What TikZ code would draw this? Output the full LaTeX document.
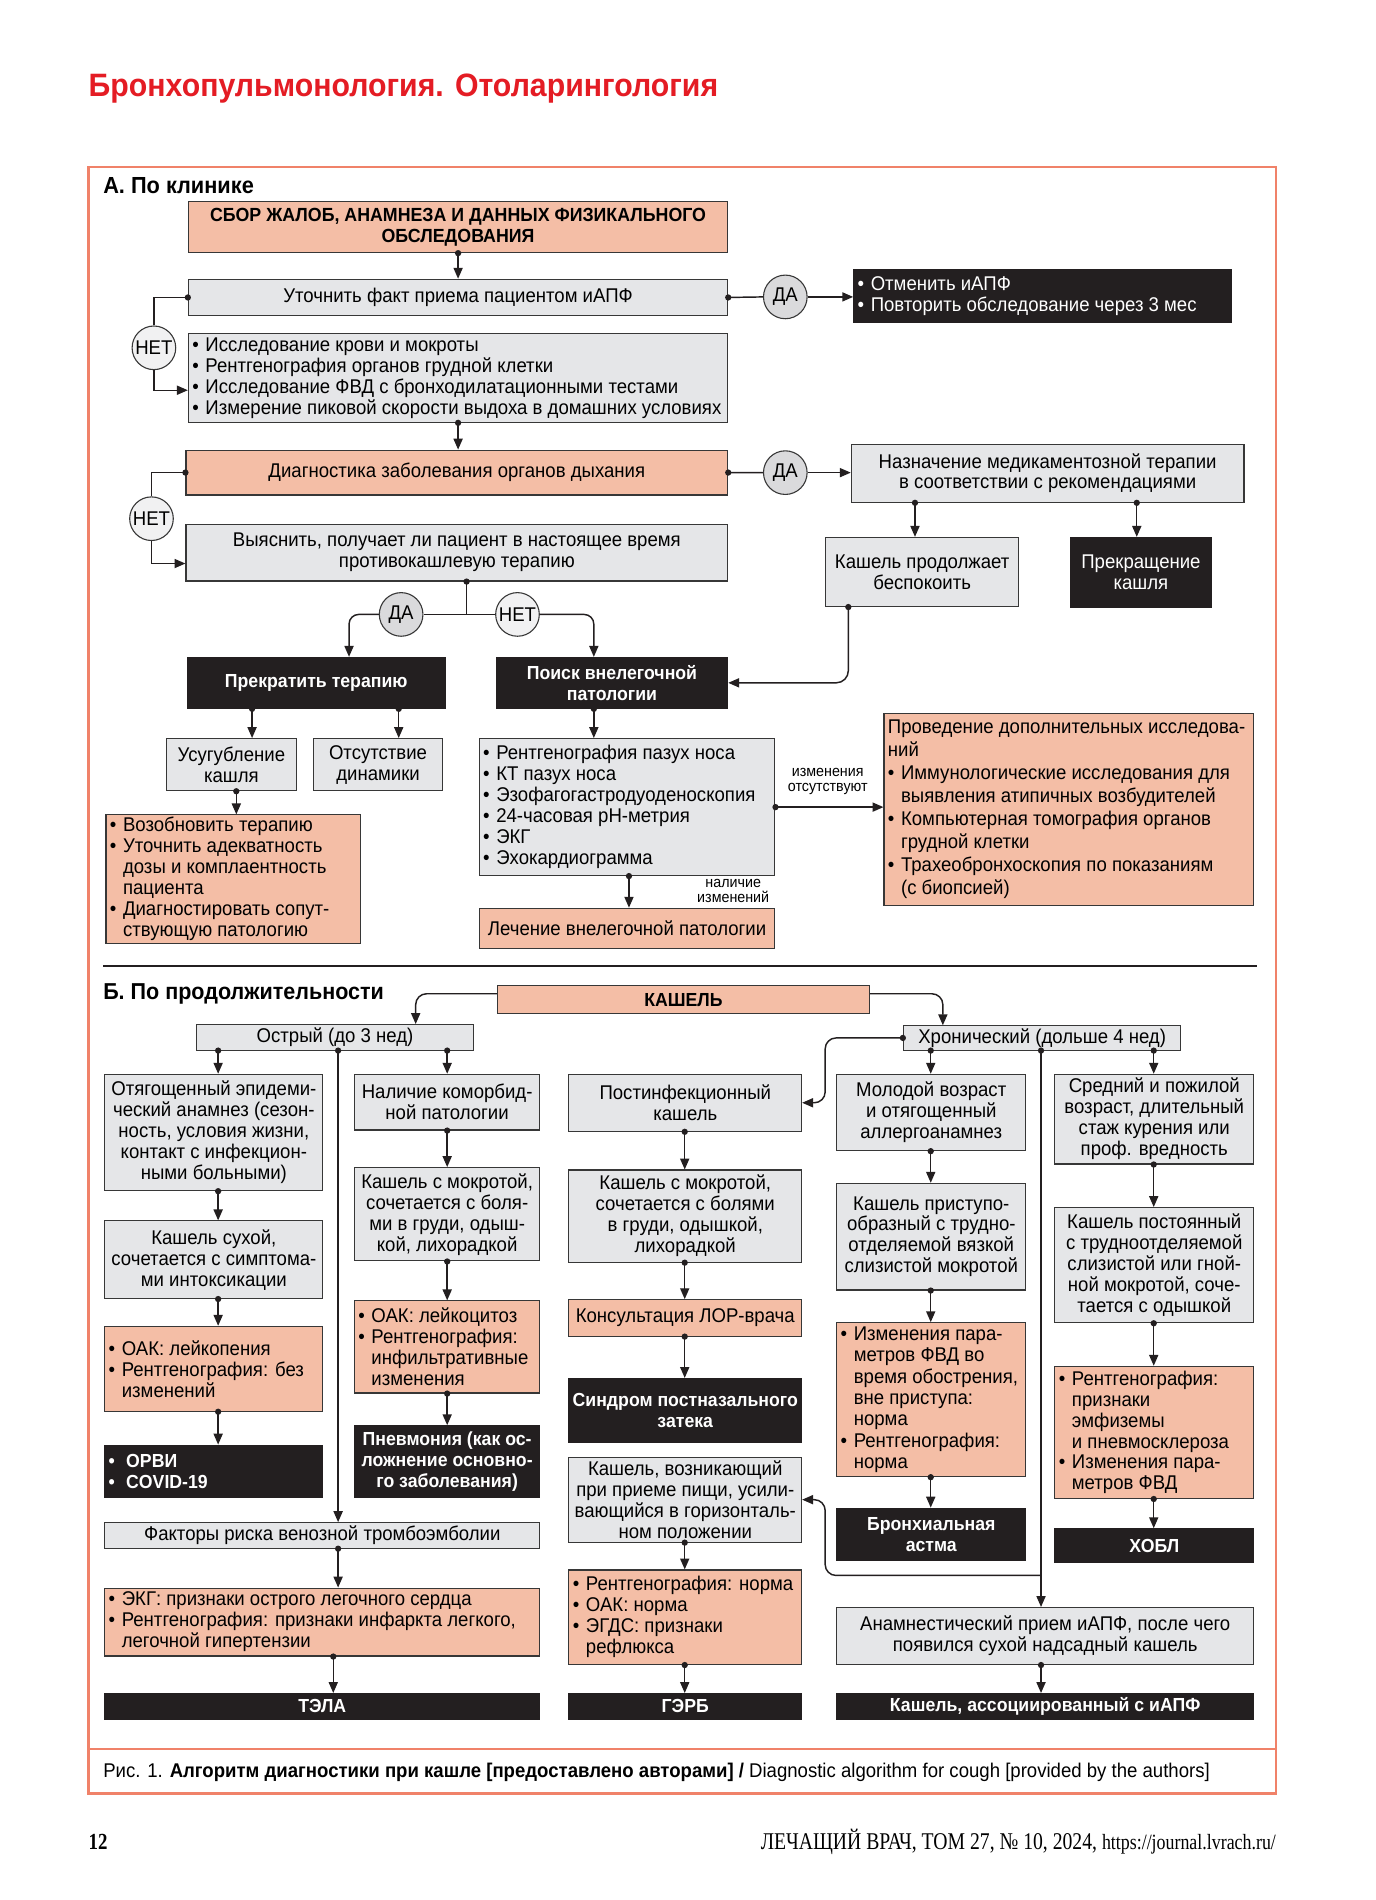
\documentclass[tikz,border=0pt]{standalone}
\usepackage{fontspec}
\setmainfont{Liberation Sans}[FakeStretch=0.935]
\newfontfamily\footserif{Liberation Serif}[FakeStretch=0.82]
\usetikzlibrary{arrows.meta}
\definecolor{salm}{RGB}{244,190,166}
\definecolor{gfill}{RGB}{229,230,232}
\definecolor{kfill}{RGB}{35,31,32}
\definecolor{bord}{RGB}{55,55,55}
\definecolor{framec}{RGB}{240,130,105}
\definecolor{tred}{RGB}{228,28,36}
\definecolor{dafill}{RGB}{218,218,220}
\definecolor{netfill}{RGB}{241,241,242}
\newcommand{\fN}{\fontsize{16.4}{17.3}\selectfont}
\newcommand{\fB}{\fontsize{15.6}{17.3}\selectfont\bfseries}
\newcommand{\bul}{\makebox[0.66em][l]{•}}
\newcommand{\ind}{\hspace*{0.66em}}
\newcommand{\cbx}[7]{%
  \pgfmathsetmacro{\myW}{#5-#3}\pgfmathsetmacro{\myH}{#6-#4}%
  \node[#1, minimum width=\myW pt, minimum height=\myH pt, anchor=north west, align=center] (#2) at (#3,#4) {#7};}
\newcommand{\lbx}[8]{%
  \pgfmathsetmacro{\myW}{#5-#3}\pgfmathsetmacro{\myH}{#6-#4}%
  \node[#1, minimum width=\myW pt, minimum height=\myH pt, anchor=north west] (#2) at (#3,#4) {};
  \node[anchor=west, align=left, inner sep=0pt, #7] (#2t) at ([xshift=3.5pt]#2.west) {#8};}
\newcommand{\conn}[3][]{\draw[arr,#1] (#2) #3; \fill[kfill] (#2) circle (2.6pt);}
\newcommand{\connl}[2]{\draw[ln] (#1) #2; \fill[kfill] (#1) circle (2.6pt);}
\begin{document}
\begin{tikzpicture}[x=1pt,y=-1pt,
  gbox/.style={draw=bord, fill=gfill, line width=0.9pt, inner sep=1pt, font=\fN},
  sbox/.style={draw=bord, fill=salm, line width=0.9pt, inner sep=1pt, font=\fN},
  kbox/.style={draw=kfill, fill=kfill, line width=0.9pt, inner sep=1pt, font=\fB, text=white},
  arr/.style={draw=kfill, line width=1.2pt, -{Triangle[length=9pt,width=7.5pt]}},
  ln/.style={draw=kfill, line width=1.2pt},
  circ/.style={circle, draw=bord, line width=0.9pt, minimum size=36pt, inner sep=0pt, font=\fN},
  lab/.style={font=\fontsize{12.6}{12.8}\selectfont, align=center, inner sep=0pt}]
\fill[white] (0,0) rectangle (1134.6,1567.8);
\useasboundingbox (0,0) rectangle (1134.6,1567.8);

% titles and frame
\node[anchor=base west, inner sep=0pt, font=\fontsize{26.7}{30}\selectfont\bfseries, text=tred] (title) at (73,80) {Бронхопульмонология. Отоларингология};
\draw[framec, line width=2pt] (73,138) rectangle (1053,1480);
\draw[framec, line width=2pt] (73,1443) -- (1053,1443);
\node[anchor=base west, inner sep=0pt, font=\fontsize{19.2}{21}\selectfont\bfseries] (secA) at (85,160) {А. По клинике};
\node[anchor=base west, inner sep=0pt, font=\fontsize{19}{21}\selectfont\bfseries] (secB) at (85,825) {Б. По продолжительности};
\draw[kfill, line width=2.2pt] (85,797) -- (1037,797);

% ---------- Section A ----------
\cbx{sbox, font=\fontsize{15.7}{18}\selectfont\bfseries}{b1}{155}{166}{600}{208}{СБОР ЖАЛОБ, АНАМНЕЗА И ДАННЫХ ФИЗИКАЛЬНОГО\\ОБСЛЕДОВАНИЯ}
\cbx{gbox}{b2}{155}{230}{600}{260}{Уточнить факт приема пациентом иАПФ}
\lbx{gbox}{b3}{155}{275}{600}{348}{font=\fN}{\bul Исследование крови и мокроты\\\bul Рентгенография органов грудной клетки\\\bul Исследование ФВД с бронходилатационными тестами\\\bul Измерение пиковой скорости выдоха в домашних условиях}
\node[circ, fill=dafill] (c1) at (648,245) {ДА};
\lbx{kbox}{k1}{704}{222}{1016}{266}{font=\fN, text=white}{\bul Отменить иАПФ\\\bul Повторить обследование через 3 мес}
\node[circ, fill=netfill] (n1) at (127,287) {НЕТ};
\cbx{sbox}{b4}{153}{371}{600}{408}{Диагностика заболевания органов дыхания}
\cbx{gbox}{b5}{153}{432}{600}{479}{Выяснить, получает ли пациент в настоящее время\\противокашлевую терапию}
\node[circ, fill=dafill] (c2) at (648,390) {ДА};
\cbx{gbox}{b6}{702}{366}{1026}{414}{Назначение медикаментозной терапии\\в соответствии с рекомендациями}
\node[circ, fill=netfill] (n2) at (125,428) {НЕТ};
\cbx{gbox}{b7}{681}{443}{840}{500}{Кашель продолжает\\беспокоить}
\cbx{kbox, font=\fN}{k2}{883}{443}{999}{501}{Прекращение\\кашля}
\node[circ, fill=dafill] (c3) at (331,507) {ДА};
\node[circ, fill=netfill] (n3) at (427,507) {НЕТ};
\cbx{kbox}{k3}{154}{542}{367}{584}{Прекратить терапию}
\cbx{kbox}{k4}{409}{542}{600}{584}{Поиск внелегочной\\патологии}
\cbx{gbox}{b8}{137}{609}{244}{652}{Усугубление\\кашля}
\cbx{gbox}{b9}{258}{609}{365}{652}{Отсутствие\\динамики}
\lbx{sbox}{s1}{87}{672}{297}{778}{font=\fN}{\bul Возобновить терапию\\\bul Уточнить адекватность\\\ind дозы и комплаентность\\\ind пациента\\\bul Диагностировать сопут-\\\ind ствующую патологию}
\lbx{gbox}{b10}{395}{609}{639}{722}{font=\fN}{\bul Рентгенография пазух носа\\\bul КТ пазух носа\\\bul Эзофагогастродуоденоскопия\\\bul 24-часовая pH-метрия\\\bul ЭКГ\\\bul Эхокардиограмма}
\cbx{sbox}{s2}{395}{749}{639}{782}{Лечение внелегочной патологии}
\lbx{sbox}{s3}{729}{588}{1034}{747}{font=\fontsize{16.4}{19}\selectfont}{Проведение дополнительных исследова-\\ний\\\bul Иммунологические исследования для\\\ind выявления атипичных возбудителей\\\bul Компьютерная томография органов\\\ind грудной клетки\\\bul Трахеобронхоскопия по показаниям\\\ind (с биопсией)}

\conn{b1.south -| 378,0}{-- (b2.north -| 378,0)}
\connl{b2.east}{-- (c1.west)}
\draw[arr] (c1.east) -- (k1.west |- c1.east);
\connl{b2.west}{-| (n1.north)}
\draw[arr] (n1.south) |- (b3.west |- 0,322);
\conn{b3.south -| 378,0}{-- (b4.north -| 378,0)}
\connl{b4.east}{-- (c2.west)}
\draw[arr] (c2.east) -- (b6.west |- c2.east);
\connl{b4.west}{-| (n2.north)}
\draw[arr] (n2.south) |- (b5.west |- 0,465);
\conn{b6.south -| 755,0}{-- (b7.north -| 755,0)}
\conn{b6.south -| 938,0}{-- (k2.north -| 938,0)}
\coordinate (j1) at (385,507);
\connl{b5.south -| j1}{-- (j1)}
\draw[ln] (c3.east) -- (n3.west);
\draw[arr, rounded corners=8pt] (c3.west) -| (k3.north -| 288,0);
\draw[arr, rounded corners=8pt] (n3.east) -| (k4.north -| 490,0);
\conn[rounded corners=10pt]{b7.south -| 700,0}{|- (k4.east)}
\conn{k3.south -| 208,0}{-- (b8.north -| 208,0)}
\conn{k3.south -| 329,0}{-- (b9.north -| 329,0)}
\conn{b8.south -| 195,0}{-- (s1.north -| 195,0)}
\conn{k4.south -| 490,0}{-- (b10.north -| 490,0)}
\conn{b10.east |- 0,666}{-- (s3.west |- 0,666)}
\node[lab] (l1) at (683,645) {изменения\\отсутствуют};
\conn{b10.south -| 519,0}{-- (s2.north -| 519,0)}
\node[lab] (l2) at (605,735) {наличие\\изменений};

% ---------- Section B ----------
\cbx{sbox, font=\fB}{kash}{410}{813}{717}{836}{КАШЕЛЬ}
\cbx{gbox}{ost}{162}{845}{390}{866}{Острый (до 3 нед)}
\cbx{gbox}{hr}{745}{846}{974}{866}{Хронический (дольше 4 нед)}
\draw[arr, rounded corners=9pt] (kash.west |- 0,820) -| (ost.north -| 343,0);
\draw[arr, rounded corners=9pt] (kash.east |- 0,820) -| (hr.north -| 778,0);

% column 1
\cbx{gbox}{a1}{86}{886}{266}{982}{Отягощенный эпидеми-\\ческий анамнез (сезон-\\ность, условия жизни,\\контакт с инфекцион-\\ными больными)}
\cbx{gbox}{a2}{86}{1007}{266}{1071}{Кашель сухой,\\сочетается с симптома-\\ми интоксикации}
\lbx{sbox}{a3}{86}{1094}{266}{1164}{font=\fN}{\bul ОАК: лейкопения\\\bul Рентгенография: без\\\ind изменений}
\lbx{kbox}{a4}{86}{1192}{266}{1235}{font=\fB, text=white}{•\hspace{0.6em}ОРВИ\\•\hspace{0.6em}COVID-19}
\conn{ost.south -| 180,0}{-- (a1.north -| 180,0)}
\conn{a1.south -| 180,0}{-- (a2.north -| 180,0)}
\conn{a2.south -| 180,0}{-- (a3.north -| 180,0)}
\conn{a3.south -| 180,0}{-- (a4.north -| 180,0)}

% column 2
\cbx{gbox}{d1}{292}{886}{445}{932}{Наличие коморбид-\\ной патологии}
\cbx{gbox}{d2}{292}{963}{445}{1040}{Кашель с мокротой,\\сочетается с боля-\\ми в груди, одыш-\\кой, лихорадкой}
\lbx{sbox}{d3}{292}{1073}{445}{1149}{font=\fN}{\bul ОАК: лейкоцитоз\\\bul Рентгенография:\\\ind инфильтративные\\\ind изменения}
\cbx{kbox}{d4}{292}{1176}{445}{1235}{Пневмония (как ос-\\ложнение основно-\\го заболевания)}
\conn{ost.south -| 369,0}{-- (d1.north -| 369,0)}
\conn{d1.south -| 369,0}{-- (d2.north -| 369,0)}
\conn{d2.south -| 369,0}{-- (d3.north -| 369,0)}
\conn{d3.south -| 369,0}{-- (d4.north -| 369,0)}

\cbx{gbox}{fact}{86}{1256}{445}{1277}{Факторы риска венозной тромбоэмболии}
\conn{ost.south -| 279,0}{-- (fact.north -| 279,0)}
\lbx{sbox}{ekg}{86}{1310}{445}{1366}{font=\fN}{\bul ЭКГ: признаки острого легочного сердца\\\bul Рентгенография: признаки инфаркта легкого,\\\ind легочной гипертензии}
\conn{fact.south -| 279,0}{-- (ekg.north -| 279,0)}
\cbx{kbox}{tela}{86}{1397}{445}{1418}{ТЭЛА}
\conn{ekg.south -| 275,0}{-- (tela.north -| 275,0)}

% column 3
\cbx{gbox}{e1}{469}{886}{661}{933}{Постинфекционный\\кашель}
\cbx{gbox}{e2}{469}{965}{661}{1041}{Кашель с мокротой,\\сочетается с болями\\в груди, одышкой,\\лихорадкой}
\cbx{sbox}{e3}{469}{1072}{661}{1102}{Консультация ЛОР-врача}
\cbx{kbox}{e4}{469}{1137}{661}{1190}{Синдром постназального\\затека}
\cbx{gbox}{e5}{469}{1202}{661}{1272}{Кашель, возникающий\\при приеме пищи, усили-\\вающийся в горизонталь-\\ном положении}
\lbx{sbox}{e6}{469}{1295}{661}{1373}{font=\fN}{\bul Рентгенография: норма\\\bul ОАК: норма\\\bul ЭГДС: признаки\\\ind рефлюкса}
\cbx{kbox}{e7}{469}{1397}{661}{1418}{ГЭРБ}
\conn{e1.south -| 565,0}{-- (e2.north -| 565,0)}
\conn{e2.south -| 565,0}{-- (e3.north -| 565,0)}
\conn{e3.south -| 565,0}{-- (e4.north -| 565,0)}
\conn{e5.south -| 565,0}{-- (e6.north -| 565,0)}
\conn{e6.south -| 565,0}{-- (e7.north -| 565,0)}

% column 4
\cbx{gbox}{f1}{690}{886}{846}{949}{Молодой возраст\\и отягощенный\\аллергоанамнез}
\cbx{gbox}{f2}{690}{976}{846}{1064}{Кашель приступо-\\образный с трудно-\\отделяемой вязкой\\слизистой мокротой}
\lbx{sbox}{f3}{690}{1091}{846}{1218}{font=\fontsize{16.4}{17.6}\selectfont}{\bul Изменения пара-\\\ind метров ФВД во\\\ind время обострения,\\\ind вне приступа:\\\ind норма\\\bul Рентгенография:\\\ind норма}
\cbx{kbox}{f4}{690}{1244}{846}{1287}{Бронхиальная\\астма}
\conn{hr.south -| 768,0}{-- (f1.north -| 768,0)}
\conn{f1.south -| 768,0}{-- (f2.north -| 768,0)}
\conn{f2.south -| 768,0}{-- (f3.north -| 768,0)}
\conn{f3.south -| 768,0}{-- (f4.north -| 768,0)}

% column 5
\cbx{gbox}{g1}{870}{886}{1034}{960}{Средний и пожилой\\возраст, длительный\\стаж курения или\\проф. вредность}
\cbx{gbox}{g2}{870}{996}{1034}{1091}{Кашель постоянный\\с трудноотделяемой\\слизистой или гной-\\ной мокротой, соче-\\тается с одышкой}
\lbx{sbox}{g3}{870}{1127}{1034}{1236}{font=\fN}{\bul Рентгенография:\\\ind признаки\\\ind эмфиземы\\\ind и пневмосклероза\\\bul Изменения пара-\\\ind метров ФВД}
\cbx{kbox}{g4}{870}{1261}{1034}{1289}{ХОБЛ}
\conn{hr.south -| 952,0}{-- (g1.north -| 952,0)}
\conn{g1.south -| 952,0}{-- (g2.north -| 952,0)}
\conn{g2.south -| 952,0}{-- (g3.north -| 952,0)}
\conn{g3.south -| 952,0}{-- (g4.north -| 952,0)}

% ACE branch
\cbx{gbox}{anam}{690}{1326}{1034}{1373}{Анамнестический прием иАПФ, после чего\\появился сухой надсадный кашель}
\cbx{kbox}{assoc}{690}{1397}{1034}{1418}{Кашель, ассоциированный с иАПФ}
\conn{hr.south -| 859,0}{-- (anam.north -| 859,0)}
\coordinate (br) at (859,1300);
\draw[arr, rounded corners=9pt] (br) -| ([xshift=19pt]e5.east) -- (e5.east);
\conn[rounded corners=9pt]{hr.west}{-| ([xshift=19pt]e1.east) -- (e1.east)}
\conn{anam.south -| 859,0}{-- (assoc.north -| 859,0)}

% caption and footer
\node[anchor=base west, inner sep=0pt, font=\fontsize{16.4}{18}\selectfont] (cap) at (85,1467) {Рис. 1. \textbf{Алгоритм диагностики при кашле [предоставлено авторами] /} Diagnostic algorithm for cough [provided by the authors]};
\node[anchor=base west, inner sep=0pt, font=\footserif\fontsize{19}{21}\selectfont\bfseries] (pg) at (73,1526) {12};
\node[anchor=base east, inner sep=0pt, font=\footserif\fontsize{19.8}{21}\selectfont] (jr) at (1053,1526) {ЛЕЧАЩИЙ ВРАЧ, ТОМ 27, № 10, 2024, {\fontsize{18}{20}\selectfont https://journal.lvrach.ru/}};
\end{tikzpicture}
\end{document}
